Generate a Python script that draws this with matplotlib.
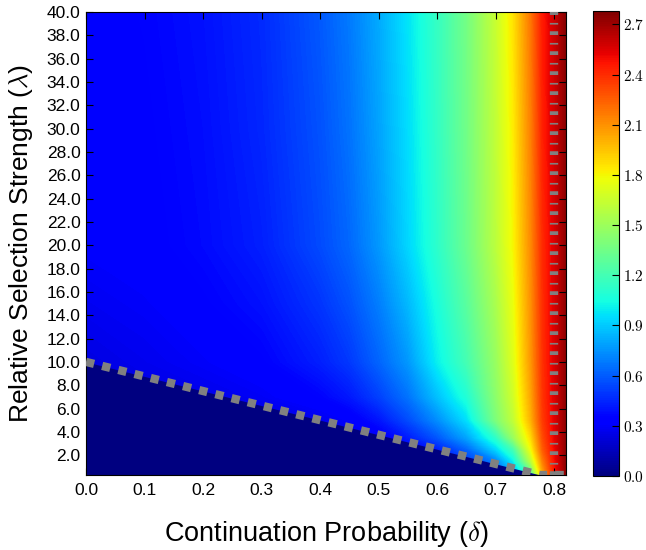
import numpy as np
import matplotlib
matplotlib.use('Agg')
import matplotlib.pyplot as plt
from matplotlib.colors import Normalize
from matplotlib.cm import ScalarMappable

plt.rcParams['font.family'] = ['Liberation Sans', 'DejaVu Sans']
plt.rcParams['mathtext.fontset'] = 'cm'

# Grid of continuation probability (x) and relative selection strength (y)
delta_grid = [0.0, 0.1, 0.2, 0.3, 0.4, 0.45, 0.5, 0.55, 0.6, 0.65, 0.7, 0.73, 0.76, 0.78, 0.8, 0.82]
lambda_grid = [0.3, 1.5, 2.5, 3.5, 5.0, 7.0, 10.0, 15.0, 20.0, 30.0, 40.0]

# Field values, one row per lambda_grid entry (bottom to top)
field = [
    [0.10, 0.12, 0.14, 0.16, 0.18, 0.20, 0.22, 0.26, 0.32, 0.42, 0.55, 0.80, 1.20, 2.00, 2.45, 2.74],
    [0.12, 0.14, 0.16, 0.18, 0.20, 0.22, 0.25, 0.30, 0.38, 0.50, 0.70, 1.00, 1.60, 2.15, 2.48, 2.74],
    [0.14, 0.16, 0.18, 0.20, 0.22, 0.25, 0.28, 0.34, 0.42, 0.62, 0.93, 1.20, 1.78, 2.25, 2.50, 2.74],
    [0.16, 0.18, 0.20, 0.22, 0.24, 0.27, 0.30, 0.42, 0.58, 0.79, 1.12, 1.48, 1.88, 2.30, 2.52, 2.74],
    [0.18, 0.20, 0.22, 0.24, 0.27, 0.31, 0.40, 0.55, 0.73, 0.95, 1.39, 1.62, 2.00, 2.35, 2.53, 2.74],
    [0.21, 0.24, 0.26, 0.29, 0.35, 0.41, 0.52, 0.66, 0.87, 1.08, 1.44, 1.67, 2.04, 2.37, 2.54, 2.74],
    [0.24, 0.27, 0.30, 0.34, 0.43, 0.50, 0.62, 0.76, 1.00, 1.20, 1.48, 1.72, 2.08, 2.38, 2.55, 2.74],
    [0.28, 0.30, 0.34, 0.39, 0.49, 0.57, 0.69, 0.85, 1.06, 1.27, 1.54, 1.76, 2.10, 2.39, 2.55, 2.74],
    [0.31, 0.33, 0.37, 0.43, 0.55, 0.63, 0.76, 0.93, 1.12, 1.33, 1.60, 1.80, 2.12, 2.40, 2.55, 2.74],
    [0.32, 0.34, 0.38, 0.45, 0.57, 0.66, 0.79, 0.95, 1.14, 1.35, 1.62, 1.83, 2.15, 2.43, 2.57, 2.75],
    [0.33, 0.35, 0.39, 0.46, 0.59, 0.68, 0.81, 0.97, 1.15, 1.36, 1.64, 1.86, 2.18, 2.45, 2.58, 2.76],
]

# Threshold below which the field vanishes, and the critical delta
threshold_delta = [0.0, 0.776, 0.82]
threshold_lambda = [10.0, 0.3, 0.3]
critical_delta = 0.8

vmin, vmax = 0.0, 2.78
cbar_ticks = [0.0, 0.3, 0.6, 0.9, 1.2, 1.5, 1.8, 2.1, 2.4, 2.7]
xticks = [0.0, 0.1, 0.2, 0.3, 0.4, 0.5, 0.6, 0.7, 0.8]
yticks = list(range(2, 42, 2))

cmap = plt.get_cmap('jet')
norm = Normalize(vmin, vmax)

fig = plt.figure(figsize=(6.46, 5.5), dpi=100)
ax = fig.add_axes([86/646, 75/550, 480/646, 463/550])
cax = fig.add_axes([593/646, 74/550, 26/646, 465/550])

levels = np.linspace(vmin, vmax, 257)
ax.contourf(delta_grid, lambda_grid, np.array(field), levels=levels,
            cmap=cmap, norm=norm, antialiased=False)

# zero region under the threshold line
ax.fill_between(threshold_delta, 0.0, threshold_lambda, color=cmap(norm(0.0)), lw=0, zorder=2)

ax.plot(threshold_delta, threshold_lambda, color='gray', lw=6,
        dashes=(1.0, 1.0), dash_capstyle='butt', zorder=3)
ax.axvline(critical_delta, color='gray', lw=6, dashes=(0.45, 0.8, 0.2, 0.95),
           dash_capstyle='butt', zorder=3)

ax.set_xlim(0.0, 0.82)
ax.set_ylim(0.3, 40.0)
ax.set_xticks(xticks)
ax.set_xticklabels(['%.1f' % t for t in xticks])
ax.set_yticks(yticks)
ax.set_yticklabels(['%.1f' % t for t in yticks])
ax.tick_params(direction='in', length=5, width=0.8, top=True, right=True, labelsize=12.5)
ax.tick_params(axis='x', pad=6)
ax.tick_params(axis='y', pad=4)

ax.set_xlabel(r'Continuation Probability ($\delta$)', fontsize=19.5, labelpad=15)
ax.set_ylabel(r'Relative Selection Strength ($\lambda$)', fontsize=19, labelpad=8)

cb = fig.colorbar(ScalarMappable(norm=norm, cmap=cmap), cax=cax, ticks=cbar_ticks)
cb.ax.set_yticklabels(['$%.1f$' % t for t in cbar_ticks])
cb.ax.tick_params(direction='in', length=5, width=0.8, labelsize=11, pad=3)
cb.outline.set_linewidth(0.8)

plt.savefig('out.png', dpi=100)
